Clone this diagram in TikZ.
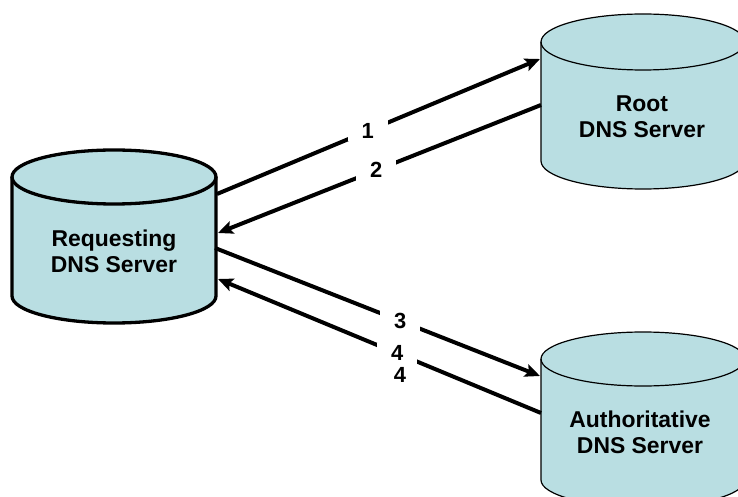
\documentclass[tikz,border=0pt]{standalone}
\usepackage{fontspec}
\setmainfont{Liberation Sans}
\usetikzlibrary{arrows.meta}
\definecolor{cylfill}{HTML}{B9DEE2}

% database cylinder: centre x, top-ellipse y, bottom-ellipse y, x radius, y radius, outline style
\newcommand\dbcyl[6]{%
  \fill[cylfill] (#1-#4,#2) -- (#1-#4,#3)
    arc[start angle=180,end angle=0,x radius=#4,y radius=#5] -- (#1+#4,#2)
    arc[start angle=0,end angle=-180,x radius=#4,y radius=#5] -- cycle;
  \draw[#6] (#1-#4,#2) -- (#1-#4,#3)
    arc[start angle=180,end angle=0,x radius=#4,y radius=#5] -- (#1+#4,#2);
  \draw[#6] (#1,#2) ellipse [x radius=#4,y radius=#5];
}

\tikzset{
  srvtext/.style={font=\fontsize{23}{26}\selectfont\bfseries,align=center,inner sep=0pt},
  msg/.style={line width=4bp,-{Stealth[length=15bp,width=13bp,inset=3bp]}},
  numlbl/.style={font=\fontsize{22}{26}\selectfont\bfseries,fill=white,inner xsep=14bp,inner ysep=3bp},
  numplain/.style={font=\fontsize{22}{26}\selectfont\bfseries,inner sep=0pt},
  thickcyl/.style={line width=3.3bp,line join=round},
  thincyl/.style={line width=1.2bp,line join=round}
}

\begin{document}
\begin{tikzpicture}[x=1bp,y=-1bp]
\useasboundingbox (0,0) rectangle (738,497);

% servers
\dbcyl{114}{177}{296}{102}{27}{thickcyl}
\dbcyl{643}{42}{161}{102}{28}{thincyl}
\dbcyl{643}{359}{480}{102}{27}{thincyl}

\node[srvtext] (req)  at (114,251) {Requesting\\DNS Server};
\node[srvtext] (root) at (642,117) {Root\\DNS Server};
\node[srvtext] (auth) at (640,432) {Authoritative\\DNS Server};

% connection points on the cylinder walls
\coordinate (req-q1)  at (217,194);
\coordinate (req-r2)  at (218,233);
\coordinate (req-q3)  at (215,248);
\coordinate (req-r4)  at (218,279);
\coordinate (root-in) at (540,59);
\coordinate (root-out) at (541,105);
\coordinate (auth-in) at (540,376);
\coordinate (auth-out) at (541,413);

% message flow
\draw[msg] (req-q1) -- node[numlbl,pos=0.467] (n1) {1} (root-in);
\draw[msg] (root-out) -- node[numlbl,pos=0.51] (n2) {2} (req-r2);
\draw[msg] (req-q3) -- node[numlbl,pos=0.57] (n3) {3} (auth-in);
\draw[msg] (auth-out) -- node[numlbl,pos=0.445] (n4) {4} (req-r4);
\node[numplain] (n4b) at (400,375) {4};
\end{tikzpicture}
\end{document}
